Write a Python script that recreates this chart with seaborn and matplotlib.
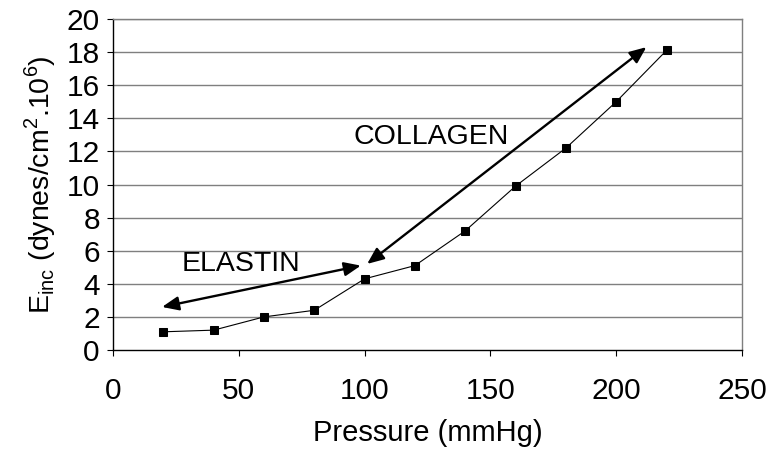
import matplotlib
matplotlib.use("Agg")
import matplotlib.pyplot as plt
import seaborn as sns
import pandas as pd

# Incremental elastic modulus versus pressure
pressure = [20, 40, 60, 80, 100, 120, 140, 160, 180, 200, 220]
e_inc = [1.1, 1.2, 2.0, 2.4, 4.3, 5.1, 7.2, 9.9, 12.2, 15.0, 18.1]

# Annotation arrows: (start, end) in data coordinates
elastin_arrow = [(19.5, 2.6), (98.5, 5.1)]
collagen_arrow = [(101, 5.2), (212, 18.3)]

x_ticks = [0, 50, 100, 150, 200, 250]
y_ticks = list(range(0, 21, 2))

sns.set_style("white")
plt.rcParams["font.family"] = ["Liberation Sans", "DejaVu Sans"]
plt.rcParams["mathtext.fontset"] = "custom"
plt.rcParams["mathtext.rm"] = "Liberation Sans"
plt.rcParams["text.color"] = "black"
plt.rcParams["axes.labelcolor"] = "black"

df = pd.DataFrame({"Pressure": pressure, "Einc": e_inc})

fig = plt.figure(figsize=(7.75, 4.5), dpi=100)
ax = fig.add_axes([0.1458, 0.2222, 0.8116, 0.7356])

for y in y_ticks[1:]:
    ax.axhline(y, color="#7f7f7f", lw=1.0, zorder=1)

sns.lineplot(data=df, x="Pressure", y="Einc", ax=ax, color="black",
             lw=0.8, marker="s", markersize=6.3, markeredgecolor="black",
             markerfacecolor="black", zorder=3)

arrow_kw = dict(arrowstyle="<|-|>,head_length=1.0,head_width=0.42",
                color="black", lw=1.7, shrinkA=0, shrinkB=0)
ax.annotate("", xy=elastin_arrow[1], xytext=elastin_arrow[0], arrowprops=arrow_kw)
ax.annotate("", xy=collagen_arrow[1], xytext=collagen_arrow[0], arrowprops=arrow_kw)

ax.text(27.4, 5.2, "ELASTIN", fontsize=20.5, ha="left", va="center", color="black")
ax.text(95.4, 12.9, "COLLAGEN", fontsize=20.5, ha="left", va="center", color="black")

ax.set_xlim(0, 250)
ax.set_ylim(0, 20)
ax.set_xticks(x_ticks)
ax.set_yticks(y_ticks)
ax.tick_params(axis="both", direction="out", length=4.5, width=0.8,
               labelsize=21.5, colors="black")
ax.tick_params(axis="x", pad=15, bottom=True)
ax.tick_params(axis="y", pad=5, left=True)

for side in ("top", "right"):
    ax.spines[side].set_visible(True)
    ax.spines[side].set_color("#7f7f7f")
    ax.spines[side].set_linewidth(1.0)
for side in ("left", "bottom"):
    ax.spines[side].set_color("black")
    ax.spines[side].set_linewidth(1.0)

ax.set_xlabel("Pressure (mmHg)", fontsize=21, labelpad=10)
ax.set_ylabel(r"E$_{\mathregular{inc}}$ (dynes/cm$^{\mathregular{2}}$.10$^{\mathregular{6}}$)",
              fontsize=20.5, labelpad=6)

fig.savefig("out.png", dpi=100)
